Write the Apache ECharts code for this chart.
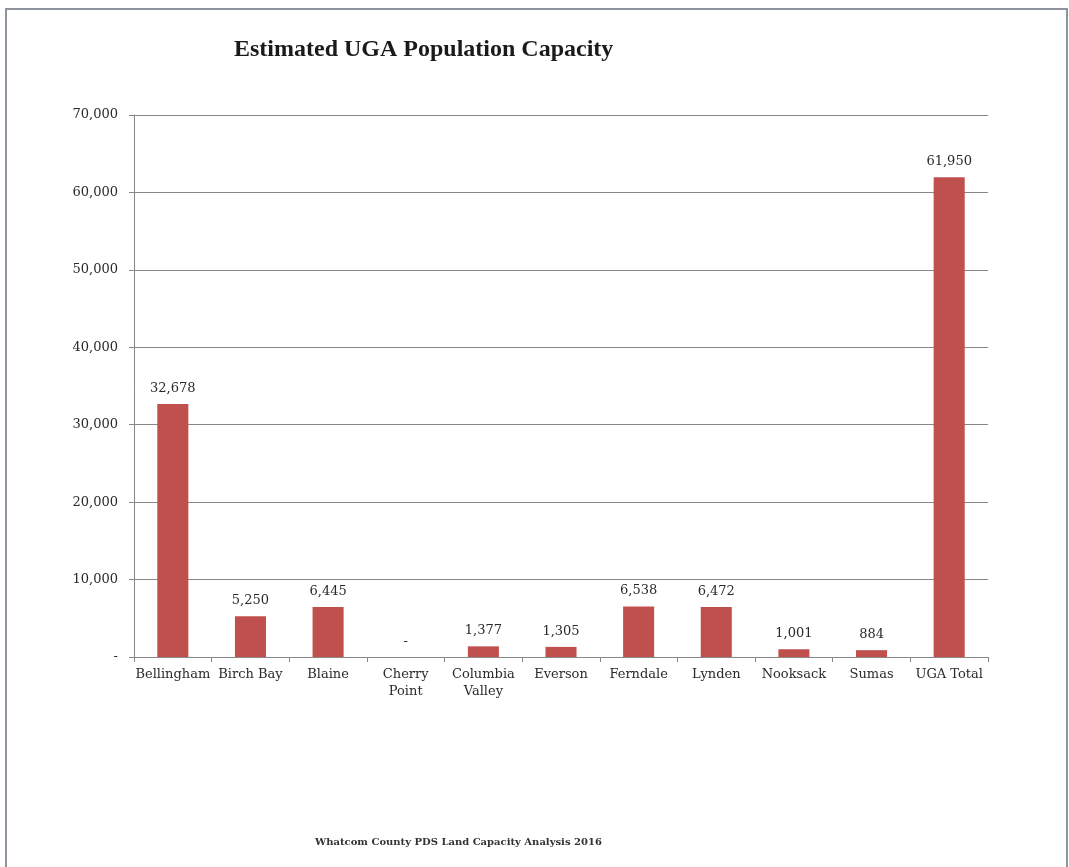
<!DOCTYPE html>
<html>
<head>
<meta charset="utf-8">
<script src="https://cdn.jsdelivr.net/npm/echarts@6/dist/echarts.min.js"></script>
<style>
  html, body { margin: 0; padding: 0; background: #ffffff; }
  #chart { width: 1069px; height: 867px; }
</style>
</head>
<body>
<div id="chart"></div>
<script>
// UGA population capacity by area (Whatcom County, 2016)
const categories = ['Bellingham', 'Birch Bay', 'Blaine', 'Cherry\nPoint', 'Columbia\nValley',
  'Everson', 'Ferndale', 'Lynden', 'Nooksack', 'Sumas', 'UGA Total'];
const capacity = [32678, 5250, 6445, 0, 1377, 1305, 6538, 6472, 1001, 884, 61950];
const yTicks = { min: 0, max: 70000, interval: 10000 };

const fmt = v => v === 0 ? '-' : v.toLocaleString('en-US');
const serif = 'DejaVu Serif';

const chart = echarts.init(document.getElementById('chart'), null, { renderer: 'canvas' });
chart.setOption({
  backgroundColor: '#ffffff',
  animation: false,
  title: {
    text: 'Estimated UGA Population Capacity',
    left: 229, top: 33,
    textStyle: { fontFamily: 'Liberation Serif', fontWeight: 'bold', fontSize: 24, color: '#1a1a1a' }
  },
  graphic: [
    {
      type: 'rect', silent: true,
      shape: { x: 6, y: 9, width: 1061, height: 870 },
      style: { fill: 'none', stroke: '#8d949e', lineWidth: 2 }
    },
    {
      type: 'text', left: 315, top: 837,
      style: {
        text: 'Whatcom County PDS Land Capacity Analysis 2016',
        font: 'bold 10px "DejaVu Serif"', fill: '#333333'
      }
    }
  ],
  grid: { left: 134, right: 81, top: 115, bottom: 210 },
  xAxis: {
    type: 'category',
    data: categories,
    axisLine: { lineStyle: { color: '#888888', width: 1 } },
    axisTick: { show: true, length: 5, lineStyle: { color: '#888888' } },
    axisLabel: {
      interval: 0, margin: 9, color: '#2a2a2a',
      fontFamily: serif, fontSize: 13, lineHeight: 17
    }
  },
  yAxis: {
    type: 'value',
    min: yTicks.min, max: yTicks.max, interval: yTicks.interval,
    axisLine: { show: true, lineStyle: { color: '#888888', width: 1 } },
    axisTick: { show: true, length: 5, lineStyle: { color: '#888888' } },
    splitLine: { show: true, lineStyle: { color: '#888888', width: 1 } },
    axisLabel: {
      margin: 16, color: '#2a2a2a', fontFamily: serif, fontSize: 13,
      formatter: fmt
    }
  },
  series: [{
    type: 'bar',
    data: capacity,
    barWidth: '40%',
    itemStyle: { color: '#c0504d' },
    label: {
      show: true, position: 'top', distance: 9,
      color: '#2a2a2a', fontFamily: serif, fontSize: 13,
      formatter: p => fmt(p.value)
    }
  }]
});
</script>
</body>
</html>
